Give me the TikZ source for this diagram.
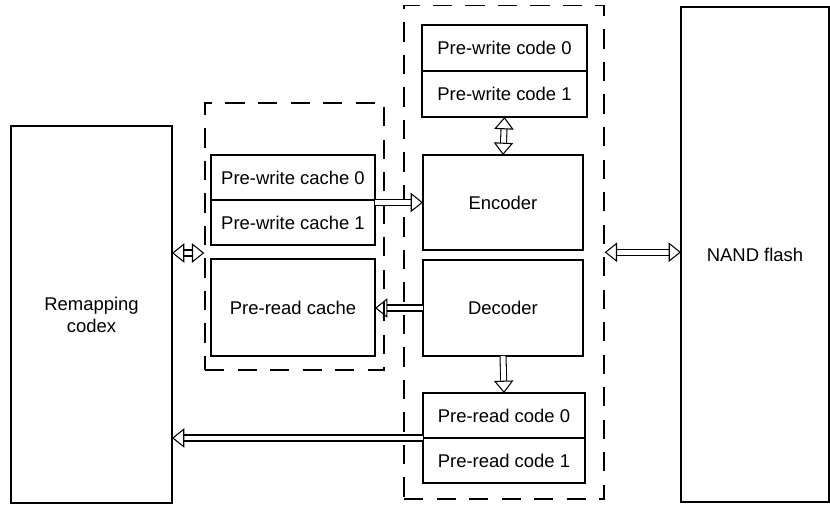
\documentclass[tikz,border=0pt]{standalone}
\usepackage{fontspec}
\setmainfont{Liberation Sans}
\usepackage{tikz}
\usetikzlibrary{arrows.meta, positioning}
\tikzstyle{block} = [rectangle, draw, line width=0.8pt, outer sep=0pt, align=center]
\tikzstyle{group} = [rectangle, draw, line width=0.8pt, dash pattern=on 11pt off 7.5pt]
\tikzstyle{darrow} = [double, line width=0.6pt, double distance=2.8pt, -{Triangle[open, line width=0.6pt, length=7pt, width=11pt]}]
\tikzstyle{ddarrow} = [double, line width=0.6pt, double distance=2.8pt, {Triangle[open, line width=0.6pt, length=7pt, width=11pt]}-{Triangle[open, line width=0.6pt, length=7pt, width=11pt]}]

\begin{document}
\begin{tikzpicture}[every node/.style={font=\fontsize{10.5pt}{12.6pt}\selectfont}]
    \useasboundingbox (0,0) rectangle (16.6,10.1);

    % Remapping codex
    \node (remap) [block, minimum width=3.22cm, minimum height=7.54cm] at (1.83,3.81) {Remapping\\codex};

    % Cache group
    \node (cachebox) [group, minimum width=3.58cm, minimum height=5.34cm] at (5.89,5.37) {};
    \node (pwcache0) [block, minimum width=3.28cm, minimum height=0.9cm] at (5.86,6.55) {Pre-write cache 0};
    \node (pwcache1) [block, minimum width=3.28cm, minimum height=0.9cm, below=0pt of pwcache0] {Pre-write cache 1};
    \node (prcache) [block, minimum width=3.28cm, minimum height=1.94cm] at (5.86,3.95) {Pre-read cache};
    \coordinate (gap) at (5.86,5.04);

    % Codec group
    \node (codebox) [group, minimum width=4cm, minimum height=9.87cm] at (10.08,5.055) {};
    \node (pwcode0) [block, minimum width=3.3cm, minimum height=0.92cm] at (10.09,9.14) {Pre-write code 0};
    \node (pwcode1) [block, minimum width=3.3cm, minimum height=0.92cm, below=0pt of pwcode0] {Pre-write code 1};
    \node (encoder) [block, minimum width=3.2cm, minimum height=1.9cm] at (10.06,6.05) {Encoder};
    \node (decoder) [block, minimum width=3.2cm, minimum height=1.92cm] at (10.06,3.94) {Decoder};
    \node (prcode0) [block, minimum width=3.24cm, minimum height=0.9cm] at (10.08,1.79) {Pre-read code 0};
    \node (prcode1) [block, minimum width=3.24cm, minimum height=0.9cm, below=0pt of prcode0] {Pre-read code 1};

    % NAND flash
    \node (nand) [block, minimum width=2.96cm, minimum height=9.9cm] at (15.1,5.01) {NAND flash};

    % Arrows
    \draw [ddarrow] (gap -| remap.east) -- (gap -| cachebox.west);
    \draw [darrow] (encoder.west -| pwcache0.east) -- (encoder.west);
    \draw [darrow] (decoder.west) -- (decoder.west -| prcache.east);
    \draw [ddarrow] (pwcode1.south) -- (encoder.north);
    \draw [darrow] (decoder.south) -- (prcode0.north);
    \draw [darrow] (prcode0.south west) -- (prcode0.south west -| remap.east);
    \draw [ddarrow] (codebox.east) -- (codebox.east -| nand.west);
\end{tikzpicture}
\end{document}
